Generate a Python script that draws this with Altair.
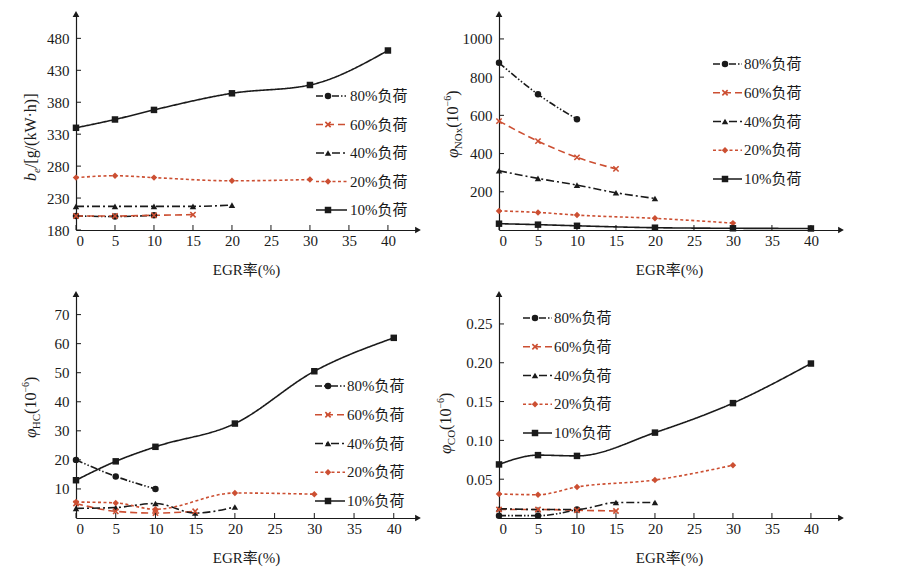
import altair as alt
import pandas as pd

FONT = "Liberation Serif, Noto Sans CJK SC"
RED = "#cc4f32"
INK = "#1a1a1a"

SERIES = ["80%负荷", "60%负荷", "40%负荷", "20%负荷", "10%负荷"]

# EGR rate (%) of each load series
egr_80 = [0, 5, 10]
egr_60 = [0, 5, 10, 15]
egr_40 = [0, 5, 10, 15, 20]
egr_20 = [0, 5, 10, 20, 30]
egr_10 = [0, 5, 10, 20, 30, 40]
EGR = [egr_80, egr_60, egr_40, egr_20, egr_10]

# be [g/(kW.h)]
be_80 = [202, 201, 203]
be_60 = [202, 202, 203, 204]
be_40 = [217, 217, 217, 217, 219]
be_20 = [262, 265, 262, 257, 259]
be_10 = [340, 353, 368, 394, 407, 461]

# NOx (1e-6)
nox_80 = [875, 710, 580]
nox_60 = [570, 465, 380, 320]
nox_40 = [310, 270, 235, 195, 165]
nox_20 = [100, 92, 78, 61, 36]
nox_10 = [33, 28, 22, 12, 9, 8]

# HC (1e-6)
hc_80 = [20, 14.3, 10]
hc_60 = [5, 2.3, 1.7, 2.3]
hc_40 = [3.3, 3.6, 5, 1.7, 3.8]
hc_20 = [5.5, 5.2, 3, 8.6, 8.2]
hc_10 = [13, 19.5, 24.5, 32.5, 50.5, 62]

# CO (1e-6)
co_80 = [0.003, 0.003, 0.011]
co_60 = [0.011, 0.011, 0.010, 0.009]
co_40 = [0.012, 0.011, 0.011, 0.020, 0.020]
co_20 = [0.031, 0.030, 0.040, 0.049, 0.068]
co_10 = [0.069, 0.081, 0.080, 0.110, 0.148, 0.199]

X_TICKS = [0, 5, 10, 15, 20, 25, 30, 35, 40]
BE_TICKS = [180, 230, 280, 330, 380, 430, 480]
NOX_TICKS = [200, 400, 600, 800, 1000]
HC_TICKS = [10, 20, 30, 40, 50, 60, 70]
CO_TICKS = [0.05, 0.10, 0.15, 0.20, 0.25]

XPATH = "M-1,-1L1,1M-1,1L1,-1"

color_scale = alt.Scale(domain=SERIES, range=[INK, RED, INK, RED, INK])
dash_scale = alt.Scale(domain=SERIES,
                       range=[[7, 2, 1.5, 2, 1.5, 2], [7, 4], [8, 3, 2, 3], [3, 2.5], [1, 0]])
shape_scale = alt.Scale(domain=SERIES,
                        range=["circle", XPATH, "triangle-up", "diamond", "square"])

CW = {"(": .333, ")": .333, "[": .333, "]": .333, "/": .278, "·": .25, "W": .944,
      "N": .722, "O": .722, "H": .722, "C": .667, "e": .444, "φ": .52, "−": .564}


def text_width(s, size):
    return sum(CW.get(c, 0.5) for c in s) * size


def make_df(vals):
    rows = []
    for s, xs, ys in zip(SERIES, EGR, vals):
        for x, y in zip(xs, ys):
            rows.append({"series": s, "egr": x, "value": y})
    return pd.DataFrame(rows)


def panel(vals, ydom, yticks, yfmt, xmax, W, H, leg, title_parts, tx, ty):
    df = make_df(vals)
    one = pd.DataFrame({"k": [0]})
    xscale = alt.Scale(domain=[0, xmax], nice=False, zero=False)
    yscale = alt.Scale(domain=ydom, nice=False, zero=False)
    xaxis = alt.Axis(values=X_TICKS, title="EGR率(%)", format="d")
    yaxis = alt.Axis(values=yticks, title=None, format=yfmt)
    xenc = alt.X("egr:Q", scale=xscale, axis=xaxis)
    yenc = alt.Y("value:Q", scale=yscale, axis=yaxis)
    col = alt.Color("series:N", scale=color_scale, legend=None)
    dash = alt.StrokeDash("series:N", scale=dash_scale, legend=None)
    shp = alt.Shape("series:N", scale=shape_scale, legend=None)

    base = alt.Chart(df)
    layers = []
    layers.append(base.mark_line(interpolate="monotone", strokeWidth=1.6).encode(
        x=xenc, y=yenc, color=col, strokeDash=dash))
    layers.append(base.transform_filter(alt.datum.series != "60%负荷").mark_point(
        filled=True, size=42, opacity=1).encode(x=xenc, y=yenc, color=col, shape=shp))
    layers.append(base.transform_filter(alt.datum.series == "60%负荷").mark_point(
        shape=XPATH, filled=False, size=28, strokeWidth=1.6, color=RED, opacity=1).encode(
        x=xenc, y=yenc))

    # inward ticks
    layers.append(alt.Chart(pd.DataFrame({"egr": X_TICKS})).mark_rule(
        color=INK, strokeWidth=1).encode(x=xenc, y=alt.value(H), y2=alt.value(H - 5)))
    layers.append(alt.Chart(pd.DataFrame({"value": yticks})).mark_rule(
        color=INK, strokeWidth=1).encode(y=yenc, x=alt.value(0), x2=alt.value(5)))
    # axis arrows
    layers.append(alt.Chart(one).mark_point(shape="triangle-right", filled=True, size=45,
                                            color=INK, opacity=1).encode(
        x=alt.value(W + 2), y=alt.value(H)))
    layers.append(alt.Chart(one).mark_point(shape="triangle-up", filled=True, size=45,
                                            color=INK, opacity=1).encode(
        x=alt.value(0), y=alt.value(-2)))

    # legend
    x1, x2, xm, xtx, ya, yb = leg
    ldf = pd.DataFrame({"series": SERIES})
    for i, s in enumerate(SERIES):
        yv = ya + i * (yb - ya) / 4.0
        lb = alt.Chart(ldf).transform_filter(alt.datum.series == s)
        layers.append(lb.mark_rule(strokeWidth=1.6).encode(
            x=alt.value(x1), x2=alt.value(x2), y=alt.value(yv), color=col, strokeDash=dash))
        if s == "60%负荷":
            layers.append(lb.mark_point(shape=XPATH, filled=False, size=28, strokeWidth=1.6,
                                        color=RED, opacity=1).encode(
                x=alt.value(xm), y=alt.value(yv)))
        else:
            layers.append(lb.mark_point(filled=True, size=42, opacity=1).encode(
                x=alt.value(xm), y=alt.value(yv), color=col, shape=shp))
        layers.append(lb.mark_text(align="left", baseline="middle", font=FONT, fontSize=15,
                                   color=INK).encode(
            x=alt.value(xtx), y=alt.value(yv), text="series:N"))

    # rotated y title with sub/superscripts
    off = 0
    for txt, size, italic, dy in title_parts:
        kw = dict(text=txt, angle=270, align="left", baseline="alphabetic", font=FONT,
                  fontSize=size, color=INK, dx=off, dy=dy)
        if italic:
            kw["fontStyle"] = "italic"
        layers.append(alt.Chart(one).mark_text(**kw).encode(x=alt.value(tx), y=alt.value(ty)))
        off += text_width(txt, size)

    return alt.layer(*layers).properties(width=W, height=H)


def phi_title(sub):
    return [("φ", 17, True, 0), (sub, 11, False, 4), ("(10", 16, False, 0),
            ("−6", 10, False, -7), (")", 16, False, 0)]


W = 340
p1 = panel([be_80, be_60, be_40, be_20, be_10], [180, 515], BE_TICKS, "d", 43.6, W, 214,
           (240, 271, 252, 274, 80, 194),
           [("b", 16, True, 0), ("e", 11, True, 4), ("/[g/(kW·h)]", 16, False, 0)], -40, 165)
p2 = panel([nox_80, nox_60, nox_40, nox_20, nox_10], [0, 1120], NOX_TICKS, "d", 43.6, W, 214,
           (214, 243, 226, 245, 48, 163), phi_title("NOx"), -41, 142)
p3 = panel([hc_80, hc_60, hc_40, hc_20, hc_10], [0, 76.4], HC_TICKS, "d", 42.8, W, 222,
           (239, 269, 252, 271, 90, 205), phi_title("HC"), -40, 142)
p4 = panel([co_80, co_60, co_40, co_20, co_10], [0, 0.286], CO_TICKS, ".2f", 43.6, W, 222,
           (24, 53, 36, 55, 22, 137), phi_title("CO"), -48, 158)

chart = alt.concat(p1, p2, p3, p4, columns=2, bounds="flush",
                   spacing={"row": 66, "column": 83}).properties(
    padding={"left": 13, "top": 3, "right": 5, "bottom": 5}
).configure_view(strokeWidth=0).configure_axis(
    domainColor=INK, domainWidth=1.2, ticks=False, grid=False,
    labelFont=FONT, labelFontSize=15, labelColor=INK, labelPadding=5,
    titleFont=FONT, titleFontSize=15, titleColor=INK, titleFontWeight="normal"
).configure_axisX(labelPadding=3, titlePadding=14).configure_axisY(labelPadding=7)

chart.save("out.html", embed_options={"renderer": "svg", "actions": False})
